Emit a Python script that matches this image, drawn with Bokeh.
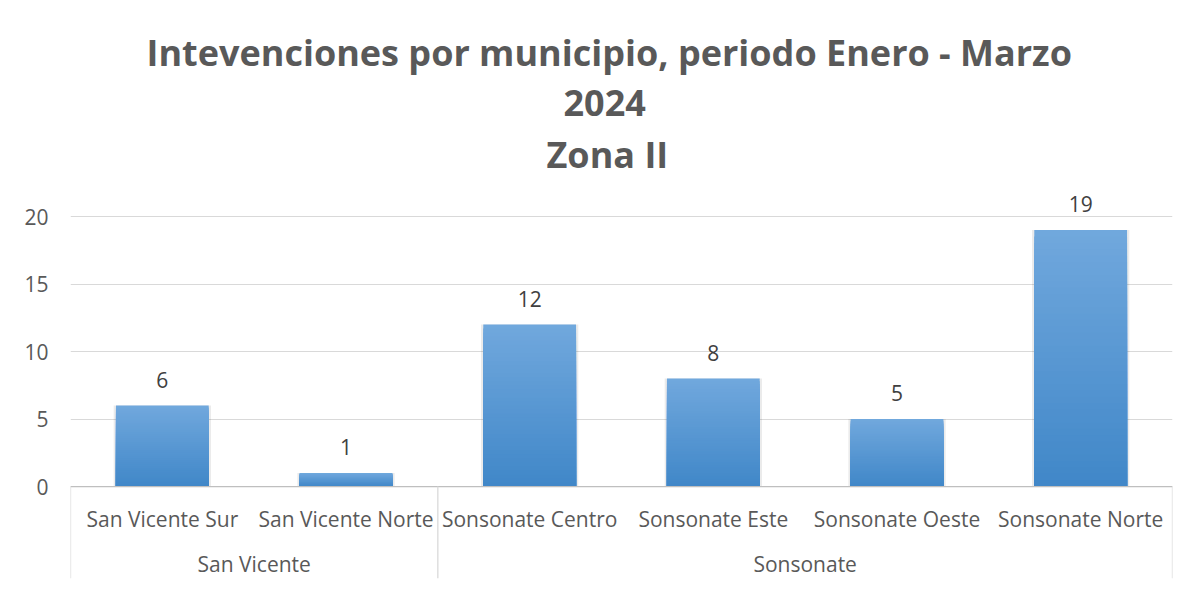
from bokeh.plotting import figure
from bokeh.models import (ColumnDataSource, FactorRange, FixedTicker, LabelSet, Title, Range1d)
from bokeh.core.properties import value
from bokeh.embed import file_html
from bokeh.resources import INLINE

# ---- data ----
groups = ["San Vicente", "San Vicente", "Sonsonate", "Sonsonate", "Sonsonate", "Sonsonate"]
municipios = ["San Vicente Sur", "San Vicente Norte", "Sonsonate Centro",
              "Sonsonate Este", "Sonsonate Oeste", "Sonsonate Norte"]
intervenciones = [6, 1, 12, 8, 5, 19]
group_names = ["San Vicente", "Sonsonate"]
y_ticks = [0, 5, 10, 15, 20]
title_lines = ["Intevenciones por municipio, periodo Enero - Marzo", "2024", "Zona II"]

factors = list(zip(groups, municipios))

TXT = "#595959"
FONT = "Open Sans"
Y0, Y1 = -6.81, 22.30

p = figure(width=1188, height=581, x_range=FactorRange(*factors, factor_padding=0,
           subgroup_padding=0, group_padding=0, range_padding=0),
           y_range=Range1d(Y0, Y1), x_axis_location=None,
           output_backend="svg", toolbar_location=None, title=None,
           min_border_left=70, min_border_right=16, min_border_bottom=3, min_border_top=185)
p.outline_line_color = None
p.background_fill_color = "white"
p.border_fill_color = "white"

# titles (added bottom-up: nearest the plot first); left-aligned offsets centre them on the chart
title_offsets = [76, 493, 476]
title_standoffs = [13, 9, 14]
for line, off, st in reversed(list(zip(title_lines, title_offsets, title_standoffs))):
    p.add_layout(Title(text=line, align="left", offset=off, text_font=FONT, text_font_size="36px",
                       text_font_style="bold", text_color=TXT, standoff=st), "above")

# grid / y axis
p.xgrid.visible = False
p.ygrid.ticker = FixedTicker(ticks=y_ticks)
p.ygrid.grid_line_color = "#d9d9d9"
p.ygrid.grid_line_width = 1
p.yaxis.ticker = FixedTicker(ticks=y_ticks)
p.yaxis.axis_line_color = None
p.yaxis.major_tick_line_color = None
p.yaxis.minor_tick_line_color = None
p.yaxis.major_label_text_font = FONT
p.yaxis.major_label_text_font_size = "21px"
p.yaxis.major_label_text_color = TXT
p.yaxis.major_label_standoff = 16

# gradient bars: overlapping bars from tallest (light top) down to shortest (dark bottom)
N = 40
top_c = (0x71, 0xa8, 0xdd)
bot_c = (0x40, 0x87, 0xc8)
xs, tops, cols = [], [], []
for f, v in zip(factors, intervenciones):
    for i in reversed(range(N)):
        t = (i + 0.5) / N
        c = tuple(int(round(bot_c[k] + (top_c[k] - bot_c[k]) * t)) for k in range(3))
        xs.append(f)
        tops.append(v * (i + 1) / N)
        cols.append("#%02x%02x%02x" % c)
# soft shadow
p.vbar(x=factors, top=intervenciones, bottom=0, width=0.53, fill_color="#000000",
       fill_alpha=0.08, line_color=None)
p.vbar(x=xs, bottom=0, top=tops, width=0.505, fill_color=cols, line_color=None)

# axis line at zero
p.segment(x0=[(factors[0][0], factors[0][1], -0.5)], x1=[(factors[-1][0], factors[-1][1], 0.5)],
          y0=[0], y1=[0], line_color="#bfbfbf", line_width=1.3)

# separators
sep_x = [(factors[0][0], factors[0][1], -0.5)]
for i in range(1, len(factors)):
    if groups[i] != groups[i - 1]:
        sep_x.append((factors[i][0], factors[i][1], -0.5))
sep_x.append((factors[-1][0], factors[-1][1], 0.5))
p.segment(x0=sep_x, x1=sep_x, y0=[0] * len(sep_x), y1=[Y0] * len(sep_x),
          line_color="#d9d9d9", line_width=1.3)

# category labels
p.text(x=factors, y=[-2.37] * len(factors), text=municipios, text_align="center",
       text_baseline="middle", text_font=value(FONT), text_font_size="21px", text_color=TXT)
p.text(x=group_names, y=[-5.7] * len(group_names), text=group_names, text_align="center",
       text_baseline="middle", text_font=value(FONT), text_font_size="21px", text_color=TXT)

# data labels
src = ColumnDataSource(dict(x=factors, y=intervenciones, t=[str(v) for v in intervenciones]))
p.add_layout(LabelSet(x="x", y="y", text="t", source=src, y_offset=26, text_align="center",
                      text_baseline="middle", text_font=value(FONT), text_font_size="21px",
                      text_color="#404040"))

open("out.html", "w").write(file_html(p, INLINE))
